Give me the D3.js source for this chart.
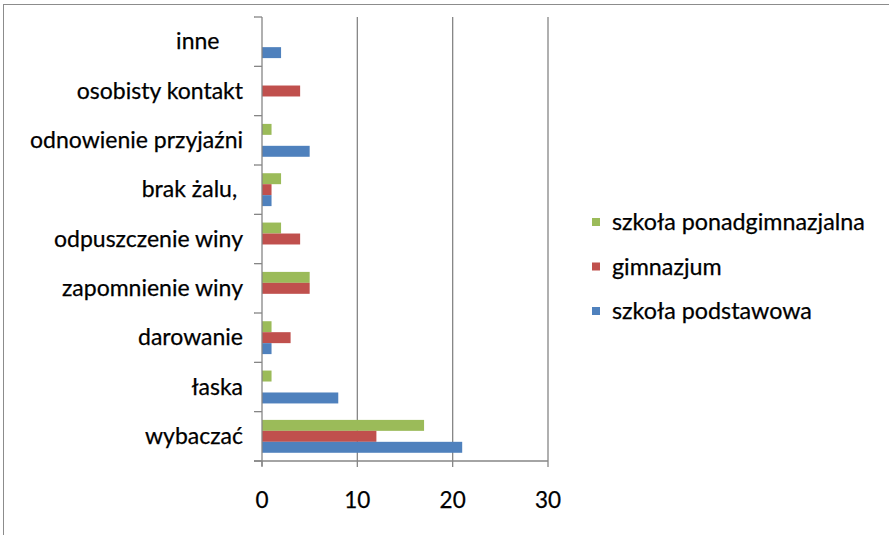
<!DOCTYPE html>
<html><head><meta charset="utf-8">
<script src="https://cdn.jsdelivr.net/npm/d3@7"></script>
<style>body{margin:0;background:#fff}svg{display:block}</style>
</head><body>
<svg id="c" width="889" height="535"></svg>
<script>
const categories = ["inne\u00a0\u00a0\u00a0\u00a0", "osobisty kontakt", "odnowienie przyjaźni", "brak żalu,\u00a0", "odpuszczenie winy", "zapomnienie winy", "darowanie", "łaska", "wybaczać"];
const seriesNames = ["szkoła ponadgimnazjalna", "gimnazjum", "szkoła podstawowa"];
const seriesColors = ["#9BBB59", "#C0504D", "#4F81BD"];
const ponadgimnazjalna = [0, 0, 1, 2, 2, 5, 1, 1, 17];
const gimnazjum = [0, 4, 0, 1, 4, 5, 3, 0, 12];
const podstawowa = [2, 0, 5, 1, 0, 0, 1, 8, 21];
const xTicks = [0, 10, 20, 30];

const seriesValues = [ponadgimnazjalna, gimnazjum, podstawowa];
const svg = d3.select("#c");
const font = "Lato, 'Open Sans', sans-serif";

svg.append("rect").attr("x", 3.5).attr("y", 4.5).attr("width", 1000).attr("height", 1000)
  .attr("fill", "none").attr("stroke", "#8c8c8c").attr("stroke-width", 1);

const pL = 262, pR = 548, pT = 17, pB = 461;
const x = d3.scaleLinear().domain([0, 30]).range([pL, pR]);
const y = d3.scaleBand().domain(categories).range([pT, pB]);
const barH = y.bandwidth() / 4.5;

// gridlines
svg.append("g").selectAll("line").data(xTicks.slice(1)).join("line")
  .attr("x1", d => x(d)).attr("x2", d => x(d)).attr("y1", pT).attr("y2", pB)
  .attr("stroke", "#868686").attr("stroke-width", 1.3);

// bars
const rows = [];
categories.forEach((c, i) => seriesValues.forEach((s, j) => rows.push({c, j, v: s[i]})));
svg.append("g").selectAll("rect").data(rows.filter(r => r.v > 0)).join("rect")
  .attr("x", x(0))
  .attr("y", d => y(d.c) + y.bandwidth() / 2 - 1.5 * barH + d.j * barH)
  .attr("width", d => x(d.v) - x(0))
  .attr("height", barH)
  .attr("fill", d => seriesColors[d.j]);

// y axis
const yAxis = svg.append("g");
yAxis.append("line").attr("x1", pL).attr("x2", pL).attr("y1", pT).attr("y2", pB + 5)
  .attr("stroke", "#868686").attr("stroke-width", 1.3);
const bounds = categories.map(c => y(c)).concat([pB]);
yAxis.selectAll("line.t").data(bounds).join("line").attr("class", "t")
  .attr("x1", pL - 8).attr("x2", pL).attr("y1", d => d).attr("y2", d => d)
  .attr("stroke", "#868686").attr("stroke-width", 1.3);
yAxis.selectAll("text").data(categories).join("text")
  .attr("x", 243).attr("y", d => y(d) + y.bandwidth() / 2 + 7.5)
  .attr("text-anchor", "end").attr("font-family", font).attr("font-size", 23)
  .attr("stroke", "#000").attr("stroke-width", 0.25)
  .attr("fill", "#000").text(d => d);

// x axis
const xAxis = svg.append("g");
xAxis.append("line").attr("x1", pL - 8).attr("x2", pR).attr("y1", pB).attr("y2", pB)
  .attr("stroke", "#868686").attr("stroke-width", 1.3);
xAxis.selectAll("line.t").data(xTicks).join("line").attr("class", "t")
  .attr("x1", d => x(d)).attr("x2", d => x(d)).attr("y1", pB).attr("y2", pB + 6)
  .attr("stroke", "#868686").attr("stroke-width", 1.3);
xAxis.selectAll("text").data(xTicks).join("text")
  .attr("x", d => x(d)).attr("y", 508).attr("text-anchor", "middle")
  .attr("font-family", font).attr("font-size", 22.5).attr("fill", "#000")
  .attr("stroke", "#000").attr("stroke-width", 0.25).text(d => d);

// legend
const lg = svg.append("g");
seriesNames.forEach((n, i) => {
  const cy = 222 + i * 44.5;
  lg.append("rect").attr("x", 592).attr("y", cy - 4).attr("width", 8).attr("height", 8).attr("fill", seriesColors[i]);
  lg.append("text").attr("x", 612).attr("y", cy + 8).attr("font-family", font).attr("font-size", 23.3)
    .attr("stroke", "#000").attr("stroke-width", 0.25)
    .attr("fill", "#000").text(n);
});
</script>
</body></html>
